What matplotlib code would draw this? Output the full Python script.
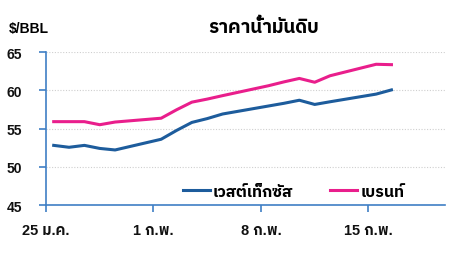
import matplotlib
matplotlib.use("Agg")
import matplotlib.pyplot as plt
import pandas as pd

dates = ["2021-01-25", "2021-01-26", "2021-01-27", "2021-01-28", "2021-01-29",
         "2021-02-01", "2021-02-02", "2021-02-03", "2021-02-04", "2021-02-05",
         "2021-02-08", "2021-02-09", "2021-02-10", "2021-02-11", "2021-02-12",
         "2021-02-15", "2021-02-16"]
wti = [52.8, 52.55, 52.8, 52.4, 52.2,
       53.6, 54.75, 55.8, 56.3, 56.9,
       57.95, 58.3, 58.7, 58.15, 58.5,
       59.5, 60.05]
brent = [55.9, 55.9, 55.9, 55.5, 55.85,
         56.35, 57.45, 58.45, 58.85, 59.3,
         60.6, 61.1, 61.55, 61.05, 61.9,
         63.4, 63.35]
tick_dates = ["2021-01-25", "2021-02-01", "2021-02-08", "2021-02-15"]
tick_labels = ["25 ม.ค.", "1 ก.พ.", "8 ก.พ.", "15 ก.พ."]
series_names = ["เวสต์เท็กซัส", "เบรนท์"]
title = "ราคาน้ำมันดิบ"
unit = "$/BBL"

plt.rcParams["font.family"] = ["Liberation Sans", "IBM Plex Sans Thai", "DejaVu Sans"]
plt.rcParams["font.weight"] = "bold"

blue = "#1d5c9c"
pink = "#e91e8c"
axis_col = "#3f7fc5"

# points sit half a day after the date tick
x = pd.to_datetime(dates) + pd.Timedelta(hours=12)
start = pd.Timestamp(tick_dates[0])

fig = plt.figure(figsize=(4.49, 2.55), dpi=100)
ax = fig.add_axes([0.1025, 0.192, 0.889, 0.6])
ax.plot(x, wti, color=blue, lw=2.2, label=series_names[0])
ax.plot(x, brent, color=pink, lw=2.2, label=series_names[1])

ax.set_ylim(45, 65)
ax.set_yticks([45, 50, 55, 60, 65])
ax.set_xlim(start, start + pd.Timedelta(days=26))
ax.set_xticks(pd.to_datetime(tick_dates))
ax.set_xticklabels(tick_labels)
ax.grid(axis="y", color="#cfcfcf", ls=(0, (1, 1.5)), lw=0.8)
ax.set_axisbelow(True)
for s in ["top", "right"]:
    ax.spines[s].set_visible(False)
for s in ["left", "bottom"]:
    ax.spines[s].set_color(axis_col)
    ax.spines[s].set_linewidth(1.2)
ax.tick_params(axis="both", colors=axis_col, labelcolor="#111111", length=5, width=1.2)
ax.tick_params(axis="y", labelsize=10, pad=12)
ax.tick_params(axis="x", labelsize=10.5, pad=8)

ax.legend(loc="center", bbox_to_anchor=(0.62, 0.09), ncol=2, frameon=False,
          fontsize=11.5, handlelength=1.7, handletextpad=0.2, columnspacing=2.3)

fig.text(0.588, 0.89, title, ha="center", va="center", fontsize=13.5, fontweight="bold")
fig.text(0.02, 0.888, unit, ha="left", va="center", fontsize=10, fontweight="bold")

fig.savefig("out.png", dpi=100)
